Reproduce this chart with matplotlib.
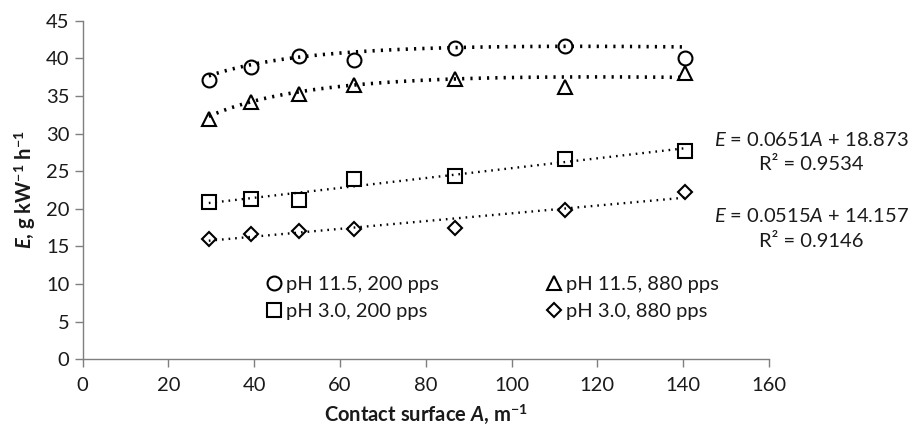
import numpy as np
import matplotlib
matplotlib.use('Agg')
import matplotlib.pyplot as plt

plt.rcParams['font.family'] = ['Lato', 'DejaVu Sans']
plt.rcParams['mathtext.fontset'] = 'custom'
plt.rcParams['mathtext.rm'] = 'Lato'
plt.rcParams['mathtext.it'] = 'Lato:italic'
plt.rcParams['mathtext.bf'] = 'Lato:bold'
plt.rcParams['mathtext.bfit'] = 'Lato:bold:italic'

# Werte
A = np.array([29.4, 39.2, 50.5, 63.3, 86.7, 112.4, 140.4])
E_ph115_200 = [37.1, 38.8, 40.3, 39.8, 41.3, 41.6, 40.0]
E_ph115_880 = [31.9, 34.2, 35.3, 36.5, 37.2, 36.2, 38.0]
E_ph30_200 = [20.9, 21.3, 21.2, 24.0, 24.4, 26.6, 27.7]
E_ph30_880 = [16.0, 16.7, 17.0, 17.3, 17.5, 19.9, 22.2]

trend_ph115_200 = [37.7, 39.0, 40.3, 40.8, 41.4, 41.6, 41.5]
trend_ph115_880 = [32.3, 34.2, 35.4, 36.6, 37.3, 37.4, 37.5]

labels = ['pH 11.5, 200 pps', 'pH 11.5, 880 pps', 'pH 3.0, 200 pps', 'pH 3.0, 880 pps']
fit_eq = ['$\\it{E}$ = 0.0651$\\it{A}$ + 18.873', '$\\it{E}$ = 0.0515$\\it{A}$ + 14.157']
fit_r2 = ['R² = 0.9534', 'R² = 0.9146']

FS = 14.5
TXT = '#1a1a1a'

fig = plt.figure(figsize=(9.13, 4.30), dpi=100)
ax = fig.add_axes([0.0906, 0.1644, 0.7516, 0.7876])

xx = np.linspace(A[0], A[-1], 200)
for tr in [trend_ph115_200, trend_ph115_880]:
    c = np.polyfit(np.log(A), tr, 2)
    ax.plot(xx, np.polyval(c, np.log(xx)), color='black', linestyle=(0, (0.6, 1.7)),
            lw=2.6, zorder=3)
for y_data in [E_ph30_200, E_ph30_880]:
    c = np.polyfit(A, y_data, 1)
    ax.plot(xx, np.polyval(c, xx), color='black', linestyle=(0, (0.7, 2.1)), lw=1.7, zorder=3)

h1, = ax.plot(A, E_ph115_200, 'o', ms=10, mfc='none', mec='black', mew=1.5, label=labels[0])
h2, = ax.plot(A, E_ph115_880, '^', ms=10.5, mfc='none', mec='black', mew=1.5, label=labels[1])
h3, = ax.plot(A, E_ph30_200, 's', ms=10, mfc='none', mec='black', mew=1.5, label=labels[2])
h4, = ax.plot(A, E_ph30_880, 'D', ms=7.5, mfc='none', mec='black', mew=1.5, label=labels[3])

ax.set_xlim(0, 160)
ax.set_ylim(0, 45)
ax.set_xticks(np.arange(0, 161, 20))
ax.set_yticks(np.arange(0, 46, 5))
ax.tick_params(labelsize=FS, length=6, width=1, color='#7f7f7f', labelcolor=TXT)
ax.tick_params(axis='x', pad=7)
ax.spines['top'].set_visible(False)
ax.spines['right'].set_visible(False)
for s in ['left', 'bottom']:
    ax.spines[s].set_color('#7f7f7f')
    ax.spines[s].set_linewidth(1)

ax.set_xlabel('Contact surface $\\bfit{A}$, m$^{\\mathbf{-1}}$', fontsize=FS,
              fontweight='bold', color=TXT, labelpad=6)
ax.set_ylabel('$\\bfit{E}$, g kW$^{\\mathbf{-1}}$ h$^{\\mathbf{-1}}$', fontsize=FS,
              fontweight='bold', color=TXT, labelpad=6)

# Legende: Zeile 1 Kreis/Dreieck, Zeile 2 Quadrat/Raute
leg = ax.legend([h1, h3, h2, h4], [labels[0], labels[2], labels[1], labels[3]],
                ncol=2, loc='lower left', bbox_to_anchor=(0.265, 0.115), frameon=False,
                fontsize=FS, handletextpad=0.15, handlelength=0.9, columnspacing=5.3,
                labelspacing=0.5, borderaxespad=0, borderpad=0)
for t in leg.get_texts():
    t.set_color(TXT)

# Gleichungen der Trendlinien
for i, y0 in enumerate([140, 216]):
    fig.text(0.889, 1 - y0 / 430, fit_eq[i], ha='center', va='center', fontsize=FS, color=TXT)
    fig.text(0.889, 1 - (y0 + 25) / 430, fit_r2[i], ha='center', va='center', fontsize=FS,
             color=TXT)

fig.savefig('out.png', dpi=100)
